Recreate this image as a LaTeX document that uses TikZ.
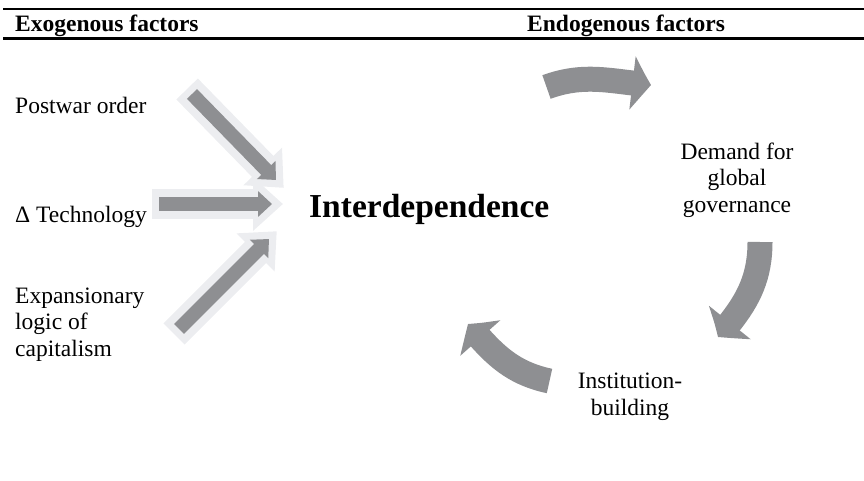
\documentclass[tikz,border=0pt]{standalone}
\usepackage{fontspec}
\setmainfont{Liberation Serif}
\usetikzlibrary{arrows.meta,bending}
\definecolor{arrowgray}{RGB}{142,143,146}
\definecolor{halogray}{RGB}{236,237,240}

\begin{document}
\begin{tikzpicture}[
    x=1pt, y=1pt,
    txt/.style={inner sep=0pt, anchor=base west, align=left, font=\fontsize{23.5}{26.5}\selectfont},
    heading/.style={txt, font=\fontsize{23.5}{26.5}\selectfont\bfseries},
    halo/.style={draw=halogray, line width=30pt, shorten <=-7pt, shorten >=-11pt, -{Triangle[length=30pt,width=52pt]}},
    push/.style={draw=arrowgray, line width=14pt, -{Triangle[length=14pt,width=25pt]}},
    cyclearrow/.style={draw=arrowgray, line width=25pt, -{Triangle[length=19pt,width=52pt,bend]}}
]
    \useasboundingbox (0,0) rectangle (864,480);

    % Header
    \draw[line width=2pt] (3,471) -- (864,471);
    \draw[line width=2.5pt] (3,441.5) -- (864,441.5);
    \node[heading] (exo) at (15,448.3) {Exogenous factors};
    \node[heading] (endo) at (527,448.3) {Endogenous factors};

    % Exogenous factors (multi-line nodes sit on their last baseline)
    \node[txt] (post) at (15,366) {Postwar order};
    \node[txt] (tech) at (15,258) {Δ Technology};
    \node[txt] (capl) at (15,124) {Expansionary\\logic of\\capitalism};
    \node[txt, font=\fontsize{33.5}{38}\selectfont\bfseries] (inter) at (309,263) {Interdependence};

    % Endogenous factors
    \node[txt, anchor=base, align=center] (demand) at (737,268) {Demand for\\global\\governance};
    \node[txt, anchor=base, align=center] (inst) at (630,65) {Institution-\\building};

    % Straight arrows
    \coordinate (post-tail) at (192,386);
    \coordinate (post-tip) at (276,300);
    \coordinate (tech-tail) at (159,276);
    \coordinate (tech-tip) at (272,276);
    \coordinate (cap-tail) at (179,151);
    \coordinate (cap-tip) at (269,241);
    \foreach \f in {post,tech,cap}
        \draw[halo] (\f-tail) -- (\f-tip);
    \foreach \f in {post,tech,cap}
        \draw[push] (\f-tail) -- (\f-tip);

    % Cycle arrows
    \coordinate (c1-tail) at (546.5,393);
    \coordinate (c1-tip) at (651,395);
    \coordinate (c2-tail) at (760,238);
    \coordinate (c2-tip) at (718,143);
    \coordinate (c3-tail) at (549.5,99);
    \coordinate (c3-tip) at (468,156);
    \draw[cyclearrow] (c1-tail) to[out=20, in=175] (c1-tip);
    \draw[cyclearrow] (c2-tail) to[out=-90, in=49] (c2-tip);
    \draw[cyclearrow] (c3-tail) to[out=168, in=310] (c3-tip);
\end{tikzpicture}
\end{document}
